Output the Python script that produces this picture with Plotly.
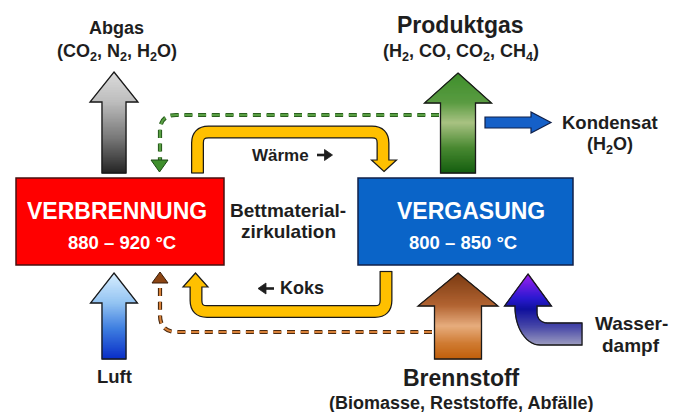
import math
import plotly.graph_objects as go

# ---------------- data: texts of the diagram ----------------
reactor_names = ["VERBRENNUNG", "VERGASUNG"]
reactor_temps = ["880 – 920 °C", "800 – 850 °C"]
product_names = ["Abgas", "Produktgas", "Kondensat"]
product_components = ["(CO<sub>2</sub>, N<sub>2</sub>, H<sub>2</sub>O)",
                      "(H<sub>2</sub>, CO, CO<sub>2</sub>, CH<sub>4</sub>)",
                      "(H<sub>2</sub>O)"]
input_names = ["Luft", "Brennstoff", "Wasser-", "dampf"]
input_details = ["(Biomasse, Reststoffe, Abfälle)"]
circulation_labels = ["Wärme", "Koks", "Bettmaterial-", "zirkulation"]

# ---------------- helpers ----------------
FONT = "Liberation Sans, Arial, DejaVu Sans, sans-serif"
shapes = []


def hex2rgb(h):
    h = h.lstrip("#")
    return tuple(int(h[i:i + 2], 16) for i in (0, 2, 4))


def grad(stops, t):
    t = max(0.0, min(1.0, t))
    for (t0, c0), (t1, c1) in zip(stops[:-1], stops[1:]):
        if t0 <= t <= t1:
            f = 0 if t1 == t0 else (t - t0) / (t1 - t0)
            a, b = hex2rgb(c0), hex2rgb(c1)
            return "rgb(%d,%d,%d)" % tuple(round(a[i] + (b[i] - a[i]) * f) for i in range(3))
    return stops[-1][1]


def poly_path(pts, close=True):
    s = "M " + " L ".join(f"{x:.2f},{y:.2f}" for x, y in pts)
    return s + (" Z" if close else "")


def band_fill(xl, xr, y_top, y_bot, breaks, stops, step=1.0):
    ys = set()
    y = y_top
    while y < y_bot:
        ys.add(round(y, 3))
        y += step
    ys.add(y_bot)
    for b in breaks:
        ys.add(b)
    ys = sorted(ys)
    e = 1e-4
    for a, b in zip(ys[:-1], ys[1:]):
        pts = [(xl(a + e), a), (xr(a + e), a), (xr(b - e), b), (xl(b - e), b)]
        col = grad(stops, ((a + b) / 2 - y_top) / (y_bot - y_top))
        shapes.append(dict(type="path", path=poly_path(pts), xref="x", yref="y",
                           fillcolor=col, line=dict(color=col, width=0.8)))


def outline(pts, color="#1a1a1a", width=1.3):
    shapes.append(dict(type="path", path=poly_path(pts), xref="x", yref="y",
                       fillcolor="rgba(0,0,0,0)", line=dict(color=color, width=width)))


def up_arrow(cx, ty, hb, by, hw, sw, stops):
    def half(y):
        return hw * (y - ty) / (hb - ty) if y < hb else sw
    band_fill(lambda y: cx - half(y), lambda y: cx + half(y), ty, by, [hb], stops)
    outline([(cx, ty), (cx + hw, hb), (cx + sw, hb), (cx + sw, by),
             (cx - sw, by), (cx - sw, hb), (cx - hw, hb)])


def tri(tip, base_y, hw, fill, lw=1.0, lc="#1a1a1a"):
    x, y = tip
    shapes.append(dict(type="path", xref="x", yref="y",
                       path=poly_path([(x, y), (x + hw, base_y), (x - hw, base_y)]),
                       fillcolor=fill, line=dict(color=lc, width=lw)))


def htri(tip, base_x, hh, fill):
    x, y = tip
    shapes.append(dict(type="path", xref="x", yref="y",
                       path=poly_path([(x, y), (base_x, y - hh), (base_x, y + hh)]),
                       fillcolor=fill, line=dict(color=fill, width=0.8)))


def stroke(path, color, width, dash="solid"):
    shapes.append(dict(type="path", path=path, xref="x", yref="y",
                       fillcolor="rgba(0,0,0,0)",
                       line=dict(color=color, width=width, dash=dash)))


def rect(x0, y0, x1, y1, fill, lc):
    shapes.append(dict(type="rect", x0=x0, y0=y0, x1=x1, y1=y1, xref="x", yref="y",
                       fillcolor=fill, line=dict(color=lc, width=1.5)))


# ---------------- reactors ----------------
rect(16, 178, 224, 265, "#ff0000", "#4a1010")
rect(358, 178, 573, 265, "#0a64c8", "#10204a")

# ---------------- dashed recirculation lines ----------------
DASH = "8px,5.7px"
green_path = "M 439,115 L 176,115 Q 160,115 160,131 L 160,160"
stroke(green_path, "#2a5f1f", 4.2, DASH)
stroke(green_path, "#5aa044", 2.0, DASH)
tri((159.5, 172), 160, 8.5, "#3f8f2c", lw=1.0, lc="#1d4a14")

brown_path = "M 432,332 L 177,332 Q 160,332 160,315 L 160,283"
stroke(brown_path, "#4a2a10", 4.2, DASH)
stroke(brown_path, "#d9823a", 2.0, DASH)
tri((160, 272), 283, 8, "#8b4513", lw=1.0, lc="#3a1c08")

# ---------------- yellow bed material pipes ----------------
YEL = "#ffc000"
top_pipe = "M 197.5,173 L 197.5,143 Q 197.5,132 208.5,132 L 372,132 Q 383,132 383,143 L 383,163"
stroke(top_pipe, "#1a1a1a", 13)
tri((384, 171.5), 160, 12.5, YEL, lw=1.2)
stroke(top_pipe, YEL, 10.5)

low_pipe = "M 196,283 L 196,300.5 Q 196,311.5 207,311.5 L 375,311.5 Q 386,311.5 386,300.5 L 386,271.5"
stroke(low_pipe, "#1a1a1a", 13)
tri((195.5, 273), 287, 12.5, YEL, lw=1.2)
stroke(low_pipe, YEL, 10.5)
shapes.append(dict(type="line", x0=191.2, x1=203.8, y0=173, y1=173, xref="x", yref="y",
                   line=dict(color="#1a1a1a", width=1.2)))
shapes.append(dict(type="line", x0=379.7, x1=392.3, y0=271.5, y1=271.5, xref="x", yref="y",
                   line=dict(color="#1a1a1a", width=1.2)))

# small direction arrows next to "Wärme" and "Koks"
shapes.append(dict(type="line", x0=317, x1=326, y0=155, y1=155, xref="x", yref="y",
                   line=dict(color="#1e1e1e", width=2.6)))
htri((332.5, 155), 324.5, 5.5, "#1e1e1e")
shapes.append(dict(type="line", x0=265, x1=274, y0=288.5, y1=288.5, xref="x", yref="y",
                   line=dict(color="#1e1e1e", width=2.6)))
htri((258, 288.5), 266, 5.5, "#1e1e1e")

# ---------------- block arrows ----------------
up_arrow(114, 72, 102, 173, 24, 12,
         [(0, "#dcdcdc"), (0.3, "#bdbdbd"), (0.65, "#7a7a7a"), (1, "#262626")])
up_arrow(458, 73, 103, 173, 33.5, 17.5,
         [(0, "#3f8f2c"), (0.3, "#5a9c42"), (0.5, "#a9c283"), (0.75, "#4a8a32"), (1, "#155f10")])
up_arrow(114, 273, 303, 359, 23.5, 12,
         [(0, "#d8eeff"), (0.35, "#94c4f2"), (0.65, "#3f7fe0"), (1, "#0a2fc8")])
up_arrow(458, 273, 306, 359, 40, 23.5,
         [(0, "#7a3a12"), (0.38, "#b26432"), (0.62, "#e6ad7e"), (0.82, "#d07c34"), (1, "#c0600c")])

kond = [(485, 117), (531, 117), (531, 112), (551, 122.5), (531, 133), (531, 128), (485, 128)]
shapes.append(dict(type="path", path=poly_path(kond), xref="x", yref="y",
                   fillcolor="#1560c8", line=dict(color="#10204a", width=1.2)))

wcx, wty, whb, whw = 528, 274, 306, 23.5


def w_half(y):
    return whw * (y - wty) / (whb - wty)


def w_xl(y):
    if y < whb:
        return wcx - w_half(y)
    d = max(0.0, (y - 307) / 38)
    return 540 - 25 * math.sqrt(max(0.0, 1 - d * d))


def w_xr(y):
    if y < whb:
        return wcx + w_half(y)
    if y < 313:
        return 537
    if y < 323:
        return 547 - math.sqrt(max(0.0, 100 - (y - 313) ** 2))
    return 582


band_fill(w_xl, w_xr, wty, 345, [whb, 313, 323],
          [(0, "#a020f0"), (0.35, "#2a1ad0"), (0.5, "#10109e"), (0.75, "#4848a8"), (1, "#9c9cc0")])
inner_arc = [(547 - 10 * math.cos(a), 313 + 10 * math.sin(a))
             for a in [i * math.pi / 2 / 8 for i in range(9)]]
outer_arc = [(540 - 25 * math.sin(a), 307 + 38 * math.cos(a))
             for a in [i * math.pi / 2 / 14 for i in range(15)]]
w_outline = ([(wcx, wty), (wcx + whw, whb), (537, whb)] + inner_arc +
             [(582, 323), (582, 345)] + outer_arc + [(515, whb), (wcx - whw, whb)])
outline(w_outline)

# ---------------- texts ----------------
ann = []


def text(x, y, s, size, color="#1e1e1e"):
    ann.append(dict(x=x, y=y, xref="x", yref="y", text=s,
                    showarrow=False, xanchor="center", yanchor="middle",
                    font=dict(family=FONT, size=size, color=color, weight="bold")))


text(117, 211, reactor_names[0], 23, "white")
text(122, 242, reactor_temps[0], 18.5, "white")
text(471, 211, reactor_names[1], 23, "white")
text(463, 242, reactor_temps[1], 18.5, "white")

text(116, 28, product_names[0], 18)
text(117, 52, product_components[0], 18)
text(460, 25, product_names[1], 23)
text(461, 52, product_components[1], 18)
text(610, 122, product_names[2], 18.5)
text(610, 145, product_components[2], 18)

text(114, 376, input_names[0], 18.5)
text(461, 378, input_names[1], 23)
text(461, 403, input_details[0], 18)
text(631, 323, input_names[2], 19)
text(631, 345, input_names[3], 19)

text(280, 155, circulation_labels[0], 17)
text(302, 288, circulation_labels[1], 18)
text(288, 210, circulation_labels[2], 19)
text(288, 231, circulation_labels[3], 19)

# The page body has an 8 px margin; shift the axes so that diagram
# coordinates equal window pixels.
OFF = 8
fig = go.Figure()
fig.add_trace(go.Scatter(x=[OFF, 679], y=[OFF, 412], mode="markers",
                         marker=dict(opacity=0), hoverinfo="skip", showlegend=False))
fig.update_layout(
    width=679 - OFF, height=412 - OFF, margin=dict(l=0, r=0, t=0, b=0),
    xaxis=dict(range=[OFF, 679], visible=False, fixedrange=True),
    yaxis=dict(range=[412, OFF], visible=False, fixedrange=True),
    plot_bgcolor="white", paper_bgcolor="white", showlegend=False,
    shapes=shapes, annotations=ann,
)
fig.write_html("out.html", config={"displayModeBar": False})
